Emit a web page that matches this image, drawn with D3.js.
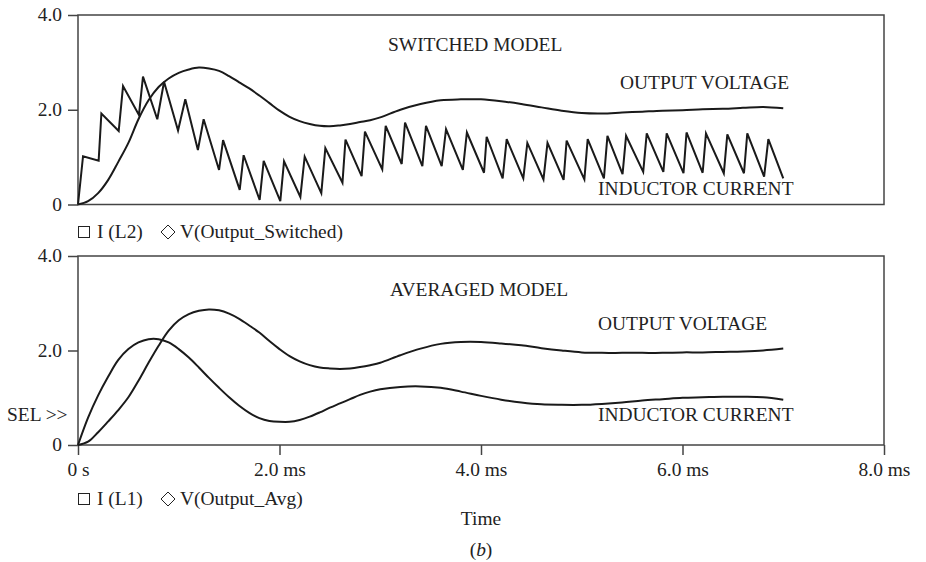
<!DOCTYPE html>
<html><head><meta charset="utf-8">
<script src="https://cdn.jsdelivr.net/npm/d3@7"></script>
<style>
html,body{margin:0;padding:0;background:#fff;}
text{font-family:"Liberation Serif","Times New Roman",serif;font-size:18px;fill:#222;}
</style></head>
<body><svg id="chart" width="926" height="562"></svg>
<script>
// ---------- DATA ----------
const timeGrid = [0,0.1,0.2,0.3,0.4,0.5,0.6,0.7,0.8,0.9,1.0,1.1,1.2,1.3,1.4,1.5,1.6,1.7,1.8,1.9,2.0,2.1,2.2,2.3,2.4,2.5,2.6,2.7,2.8,2.9,3.0,
  3.2,3.4,3.6,3.8,4.0,4.2,4.4,4.6,4.8,5.0,5.2,5.4,5.6,5.8,6.0,6.2,6.4,6.6,6.8,7.0];
const vSwitched = [0,0.07,0.24,0.52,0.9,1.3,1.8,2.2,2.48,2.66,2.78,2.85,2.89,2.87,2.82,2.71,2.58,2.45,2.30,2.14,1.98,1.85,1.76,1.70,1.66,1.65,1.67,1.70,1.74,1.78,1.84,
  2.0,2.12,2.2,2.22,2.22,2.18,2.12,2.05,1.98,1.93,1.92,1.94,1.96,1.98,1.99,2.01,2.02,2.04,2.06,2.03];
const iAvg = [0,0.58,1.05,1.45,1.80,2.03,2.17,2.24,2.24,2.17,2.03,1.85,1.64,1.42,1.21,1.01,0.83,0.68,0.57,0.51,0.49,0.49,0.53,0.60,0.69,0.79,0.88,0.97,1.06,1.13,1.18,
  1.23,1.24,1.21,1.13,1.04,0.96,0.90,0.86,0.85,0.85,0.87,0.90,0.94,0.97,1.0,1.01,1.02,1.02,1.01,0.96];
const vAvg = [0,0.07,0.27,0.5,0.74,1.01,1.36,1.74,2.1,2.42,2.64,2.77,2.84,2.87,2.85,2.78,2.67,2.53,2.38,2.2,2.03,1.88,1.77,1.69,1.64,1.62,1.61,1.62,1.65,1.69,1.74,
  1.9,2.04,2.14,2.18,2.18,2.15,2.11,2.05,2.0,1.96,1.95,1.95,1.95,1.95,1.96,1.96,1.97,1.98,2.0,2.04];
const iSwitchedT = [0,0.05,0.205,0.232,0.404,0.447,0.605,0.645,0.787,0.854,0.993,1.065,1.19,1.247,1.40,1.44,1.605,1.644,1.803,1.843,2.008,2.045,2.207,2.25,2.415,2.455,
  2.625,2.655,2.815,2.848,3.02,3.054,3.213,3.246,3.418,3.454,3.61,3.653,3.82,3.86,4.03,4.056,4.215,4.255,4.42,4.46,4.62,4.66,4.82,4.85,5.026,5.059,
  5.22,5.255,5.405,5.44,5.61,5.645,5.81,5.843,6.01,6.04,6.2,6.233,6.41,6.445,6.61,6.643,6.81,6.852,7.0];
const iSwitchedV = [0,1.02,0.925,1.92,1.55,2.5,1.89,2.7,1.8,2.59,1.56,2.22,1.15,1.8,0.73,1.36,0.31,1.04,0.095,0.92,0.07,0.91,0.16,1.01,0.24,1.19,
  0.46,1.37,0.6,1.54,0.74,1.66,0.855,1.73,0.81,1.66,0.81,1.59,0.73,1.52,0.67,1.43,0.55,1.38,0.55,1.30,0.53,1.30,0.52,1.35,0.53,1.38,
  0.55,1.45,0.64,1.45,0.69,1.50,0.69,1.50,0.66,1.52,0.67,1.50,0.66,1.48,0.66,1.50,0.59,1.38,0.55];
const xTickValues = [0,2,4,6,8];
const xTickLabels = ["0 s","2.0 ms","4.0 ms","6.0 ms","8.0 ms"];
const yTickValues = [0,2,4];
const yTickLabels = ["0","2.0","4.0"];

// ---------- LAYOUT ----------
const SX = 1.08;
const svg = d3.select("#chart");
const left = 78, right = 884;
const top1 = 15, bot1 = 204.5, top2 = 256, bot2 = 445;
const x = d3.scaleLinear().domain([0,8]).range([left,right]);
const y1 = d3.scaleLinear().domain([0,4]).range([bot1,top1]);
const y2 = d3.scaleLinear().domain([0,4]).range([bot2,top2]);
const ink = "#1a1a1a", frame = "#444";

function label(g, px, py, str, anchor){
  return g.append("text").attr("transform",`translate(${px},${py}) scale(${SX},1)`)
    .attr("text-anchor",anchor||"start").text(str);
}
function stretchAxisText(g){
  g.selectAll("text").each(function(){
    const t = d3.select(this); const tx = +t.attr("x")||0;
    t.attr("x",0).attr("transform",`translate(${tx},0) scale(${SX},1)`)
     .style("font-family",'"Liberation Serif","Times New Roman",serif').style("font-size","18px").attr("fill","#222");
  });
}

function panel(yS, top, bot, showX){
  const g = svg.append("g");
  const ya = d3.axisLeft(yS).tickValues(yTickValues).tickFormat((d,i)=>yTickLabels[i]).tickSize(10).tickSizeOuter(0).tickPadding(6);
  const ag = g.append("g").attr("transform",`translate(${left},0)`).call(ya);
  ag.select(".domain").remove();
  ag.selectAll("line").attr("stroke",frame).attr("stroke-width",1.5);
  stretchAxisText(ag);
  if(showX){
    const xa = d3.axisBottom(x).tickValues(xTickValues).tickFormat((d,i)=>xTickLabels[i]).tickSize(10).tickSizeOuter(0).tickPadding(8);
    const xg = g.append("g").attr("transform",`translate(0,${bot})`).call(xa);
    xg.select(".domain").remove();
    xg.selectAll("line").attr("stroke",frame).attr("stroke-width",1.5);
    stretchAxisText(xg);
  }
  g.append("rect").attr("x",left).attr("y",top).attr("width",right-left).attr("height",bot-top)
    .attr("fill","none").attr("stroke",frame).attr("stroke-width",1.5);
  return g;
}

const p1 = panel(y1, top1, bot1, false);
const p2 = panel(y2, top2, bot2, true);

const smooth = (yS)=>d3.line().x((d,i)=>x(timeGrid[i])).y(d=>yS(d)).curve(d3.curveCatmullRom.alpha(0.5));
const saw = d3.line().x((d,i)=>x(iSwitchedT[i])).y(d=>y1(d));

p1.append("path").attr("d",smooth(y1)(vSwitched)).attr("fill","none").attr("stroke",ink).attr("stroke-width",2);
p1.append("path").attr("d",saw(iSwitchedV)).attr("fill","none").attr("stroke",ink).attr("stroke-width",2).attr("stroke-linejoin","miter");
p2.append("path").attr("d",smooth(y2)(vAvg)).attr("fill","none").attr("stroke",ink).attr("stroke-width",2);
p2.append("path").attr("d",smooth(y2)(iAvg)).attr("fill","none").attr("stroke",ink).attr("stroke-width",2);

// annotations
label(svg,388,51,"SWITCHED MODEL");
label(svg,620,89,"OUTPUT VOLTAGE");
label(svg,598,195,"INDUCTOR CURRENT");
label(svg,390,296,"AVERAGED MODEL");
label(svg,598,330,"OUTPUT VOLTAGE");
label(svg,598,421,"INDUCTOR CURRENT");
label(svg,7,421,"SEL >>");

// legends
function legend(cy, a, b){
  svg.append("rect").attr("x",78.5).attr("y",cy-5.5).attr("width",11).attr("height",11).attr("fill","none").attr("stroke","#222").attr("stroke-width",1);
  label(svg,97,cy+6,a);
  svg.append("path").attr("d",`M168,${cy-7}L175,${cy}L168,${cy+7}L161,${cy}Z`).attr("fill","none").attr("stroke","#222").attr("stroke-width",1);
  label(svg,180,cy+6,b);
}
legend(232,"I (L2)","V(Output_Switched)");
legend(499,"I (L1)","V(Output_Avg)");

label(svg,(left+right)/2,525,"Time","middle");
const bt = svg.append("text").attr("transform",`translate(${(left+right)/2},556) scale(${SX},1)`).attr("text-anchor","middle");
bt.append("tspan").text("(");
bt.append("tspan").attr("font-style","italic").text("b");
bt.append("tspan").text(")");
</script></body></html>
